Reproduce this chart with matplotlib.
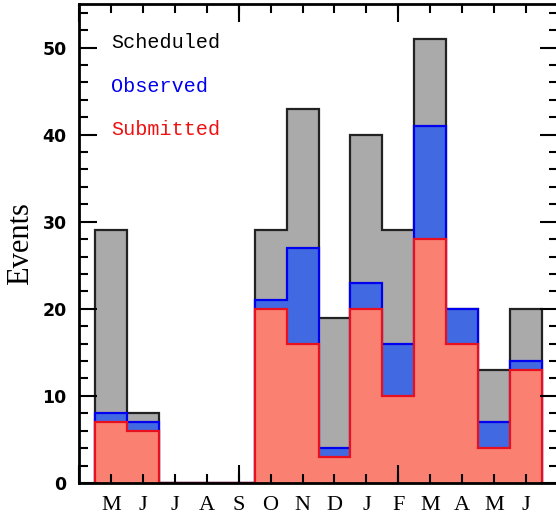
import matplotlib
matplotlib.use("Agg")
import matplotlib.pyplot as plt
import numpy as np
from matplotlib.ticker import MultipleLocator, FixedLocator

# monthly event counts
months = ["M", "J", "J", "A", "S", "O", "N", "D", "J", "F", "M", "A", "M", "J"]
scheduled = [29, 8, 0, 0, 0, 29, 43, 19, 40, 29, 51, 20, 13, 20]
observed = [8, 7, 0, 0, 0, 21, 27, 4, 23, 16, 41, 20, 7, 14]
submitted = [7, 6, 0, 0, 0, 20, 16, 3, 20, 10, 28, 16, 4, 13]

edges = np.arange(len(months) + 1) - 0.5

fig = plt.figure(figsize=(5.56, 5.14), dpi=100)
ax = fig.add_axes([79 / 556, 31 / 514, 479 / 556, 479 / 514])

ax.stairs(scheduled, edges, baseline=0, fill=True, facecolor="#aaaaaa",
          edgecolor="#222222", linewidth=1.6)
ax.stairs(observed, edges, baseline=0, fill=True, facecolor="#4169e1",
          edgecolor="#0000ee", linewidth=1.6)
ax.stairs(submitted, edges, baseline=0, fill=True, facecolor="#fa8072",
          edgecolor="#e8101e", linewidth=1.6)

ax.set_xlim(-1, 14)
ax.set_ylim(0, 55)

# x axis: a tick per month, longer ones every five months
ax.xaxis.remove_overlapping_locs = False
ax.xaxis.set_major_locator(FixedLocator([-1, 4, 9, 14]))
ax.xaxis.set_major_formatter(plt.NullFormatter())
ax.set_xticks(range(len(months)), months, minor=True)
ax.yaxis.set_major_locator(MultipleLocator(10))
ax.yaxis.set_minor_locator(MultipleLocator(2))

ax.tick_params(which="both", direction="in", top=True, right=True, width=1.5)
ax.tick_params(which="major", length=13)
ax.tick_params(which="minor", length=6.5)
ax.tick_params(axis="x", which="minor", pad=9)
ax.tick_params(axis="y", which="major", pad=9)
for lab in ax.get_xticklabels(minor=True):
    lab.set_fontfamily("Liberation Serif")
    lab.set_fontsize(16)
for lab in ax.get_yticklabels():
    lab.set_fontfamily("DejaVu Sans")
    lab.set_fontweight("bold")
    lab.set_fontsize(12.5)

for s in ax.spines.values():
    s.set_linewidth(2)
ax.set_axisbelow(False)

ax.text((21 - 79) / 479, 0.5, "Events", transform=ax.transAxes, rotation=90,
        ha="center", va="center", fontsize=22, family="Liberation Serif")

ax.text(0, 50.6, "Scheduled", color="black", fontsize=14.5,
        family="Liberation Mono", ha="left", va="center")
ax.text(0, 45.5, "Observed", color="#0000ee", fontsize=14.5,
        family="Liberation Mono", ha="left", va="center")
ax.text(0, 40.6, "Submitted", color="#ee1111", fontsize=14.5,
        family="Liberation Mono", ha="left", va="center")

fig.savefig("out.png", dpi=100)
